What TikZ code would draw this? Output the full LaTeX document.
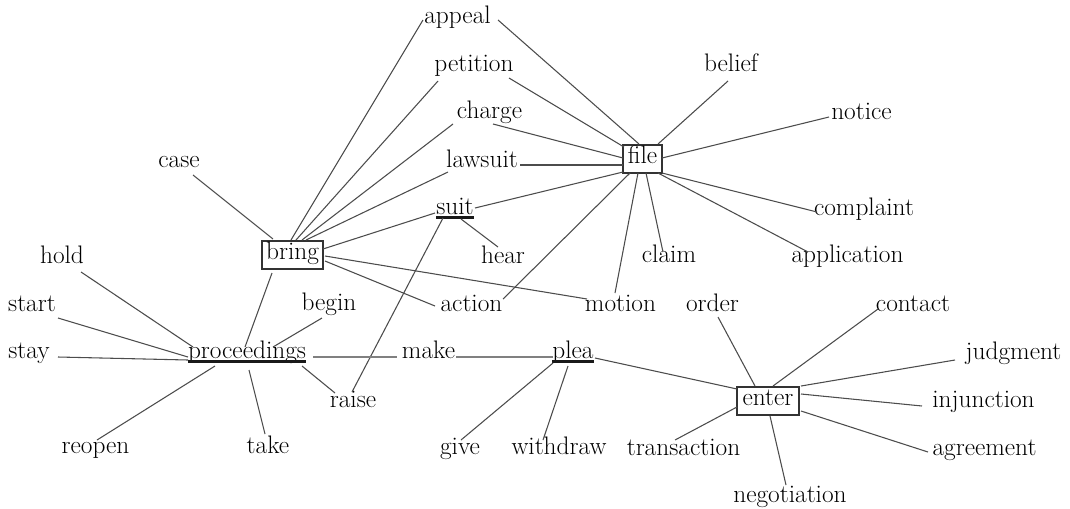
\documentclass[tikz,border=0pt]{standalone}
\usetikzlibrary{calc}
\begin{document}
\begin{tikzpicture}[x=0.75pt,y=-0.75pt,
  w/.style={inner sep=0pt, anchor=base, text=black, font=\fontsize{19}{22}\selectfont},
  boxed/.style={w, anchor=center, draw=black!80, line width=1.1pt, minimum height=21pt, text height=0.82em, text depth=0.2em},
  edge/.style={draw=black!70, line width=0.8pt},
  ledge/.style={draw=black!50, line width=1.1pt},
  uline/.style={draw=black!90, line width=2.3pt}]
\newcommand\wlink[5][edge]{\draw[#1] ($(#2)+(#3)$) -- ($(#4)+(#5)$);}
\useasboundingbox (0,0) rectangle (1070,508);
% words
\node[w] (appeal) at (457.5,23) {appeal};
\node[w] (petition) at (474,71) {petition};
\node[w] (charge) at (489.5,118) {charge};
\node[w] (lawsuit) at (482,167) {lawsuit};
\node[w] (suit) at (455,214) {suit};
\node[boxed, minimum width=29.25pt] (file) at (642.5,159) {file};
\node[w] (belief) at (731,71) {belief};
\node[w] (notice) at (861.5,119) {notice};
\node[w] (complaint) at (864,215) {complaint};
\node[w] (claim) at (669,262) {claim};
\node[w] (application) at (847.5,262) {application};
\node[w] (case) at (179,167) {case};
\node[boxed, minimum width=45.75pt] (bring) at (292.5,255) {bring};
\node[w] (hold) at (62,263) {hold};
\node[w] (hear) at (503,263) {hear};
\node[w] (start) at (32,311) {start};
\node[w] (begin) at (329,310) {begin};
\node[w] (action) at (471.5,311) {action};
\node[w] (motion) at (620.5,311) {motion};
\node[w] (order) at (712.5,311) {order};
\node[w] (contact) at (913,311) {contact};
\node[w] (stay) at (29,358) {stay};
\node[w] (proceedings) at (247,358) {proceedings};
\node[w] (make) at (428.5,358) {make};
\node[w] (plea) at (573,358) {plea};
\node[w] (judgment) at (1013.5,359) {judgment};
\node[w] (raise) at (353,407) {raise};
\node[boxed, minimum width=46.5pt] (enter) at (768,401) {enter};
\node[w] (injunction) at (983.5,407) {injunction};
\node[w] (reopen) at (95.5,453) {reopen};
\node[w] (take) at (268,453) {take};
\node[w] (give) at (460,454) {give};
\node[w] (withdraw) at (559,454) {withdraw};
\node[w] (transaction) at (683.5,455) {transaction};
\node[w] (agreement) at (984.5,455) {agreement};
\node[w] (negotiation) at (790,502) {negotiation};
% underlines
\foreach \n in {suit,proceedings,plea}
  \draw[uline] ($(\n.base west)+(0,3.6)$) -- ($(\n.base east)+(0,3.6)$);
% bring
\wlink{bring.center}{-1.5,-15}{appeal.base}{-34.5,-3}
\wlink{bring.center}{3.5,-15}{petition.base}{-36,10}
\wlink{bring.center}{9.5,-15}{charge.base}{-36.5,6}
\wlink{bring.center}{13.5,-15}{lawsuit.base}{-34,5}
\wlink{bring.center}{-19.5,-16}{case.base}{14,8}
\wlink{bring.center}{30.5,-6}{suit.base}{-20,-1}
\wlink{bring.center}{32.5,1}{motion.base}{-33.5,-12}
\wlink{bring.center}{32.5,6}{action.base}{-36.5,-5}
\wlink{bring.center}{-20.5,18}{proceedings.base}{-2,-11}
% suit
\wlink{suit.base}{6,5}{hear.base}{-5,-16}
\wlink{suit.base}{-12,4}{raise.base}{-1,-15}
% file
\wlink{file.center}{-3.5,-15}{appeal.base}{40.5,-3}
\wlink{file.center}{-18.5,-12}{petition.base}{35,7}
\wlink{file.center}{-19.5,-1}{charge.base}{3.5,6}
\wlink{file.center}{-19.5,6}{lawsuit.base}{38,-2}
\wlink{file.center}{-19.5,13}{suit.base}{20,-6}
\wlink{file.center}{15.5,-15}{belief.base}{-3,10}
\wlink{file.center}{19.5,-1}{notice.base}{-32.5,-2}
\wlink{file.center}{19.5,14}{complaint.base}{-47,-3}
\wlink{file.center}{15.5,14}{application.base}{-39.5,-10}
\wlink{file.center}{3.5,14}{claim.base}{-6,-10}
\wlink{file.center}{-4.5,14}{motion.base}{-5.5,-18}
\wlink{file.center}{-12.5,14}{action.base}{31.5,-12}
% proceedings
\wlink[ledge]{proceedings.base}{66,-1}{make.base}{-31.5,-1}
\wlink[ledge]{make.base}{27.5,-1}{plea.base}{-20,-1}
\wlink{proceedings.base}{55,8}{raise.base}{-18,-14}
\wlink{proceedings.base}{-54,-11}{hold.base}{19,9}
\wlink{proceedings.base}{-59,-1}{start.base}{26,7}
\wlink{proceedings.base}{-59,2}{stay.base}{29,-1}
\wlink{proceedings.base}{-32,8}{reopen.base}{1.5,-13}
\wlink{proceedings.base}{2,12}{take.base}{-3,-19}
\wlink{proceedings.base}{26,-11}{begin.base}{-7,8}
% plea
\wlink{plea.base}{22,0}{enter.center}{-31,-12}
\wlink{plea.base}{-20,5}{give.base}{1,-14}
\wlink{plea.base}{-5,8}{withdraw.base}{-16,-14}
% enter
\wlink{enter.center}{-13,-15}{order.base}{5.5,6}
\wlink{enter.center}{5,-15}{contact.base}{-35,-2}
\wlink{enter.center}{33,-15}{judgment.base}{-58.5,1}
\wlink{enter.center}{33,-7}{injunction.base}{-61.5,-1}
\wlink{enter.center}{33,10}{agreement.base}{-56.5,-3}
\wlink{enter.center}{2,15}{negotiation.base}{-4,-17}
\wlink{enter.center}{-31,6}{transaction.base}{-8.5,-15}
\end{tikzpicture}
\end{document}
